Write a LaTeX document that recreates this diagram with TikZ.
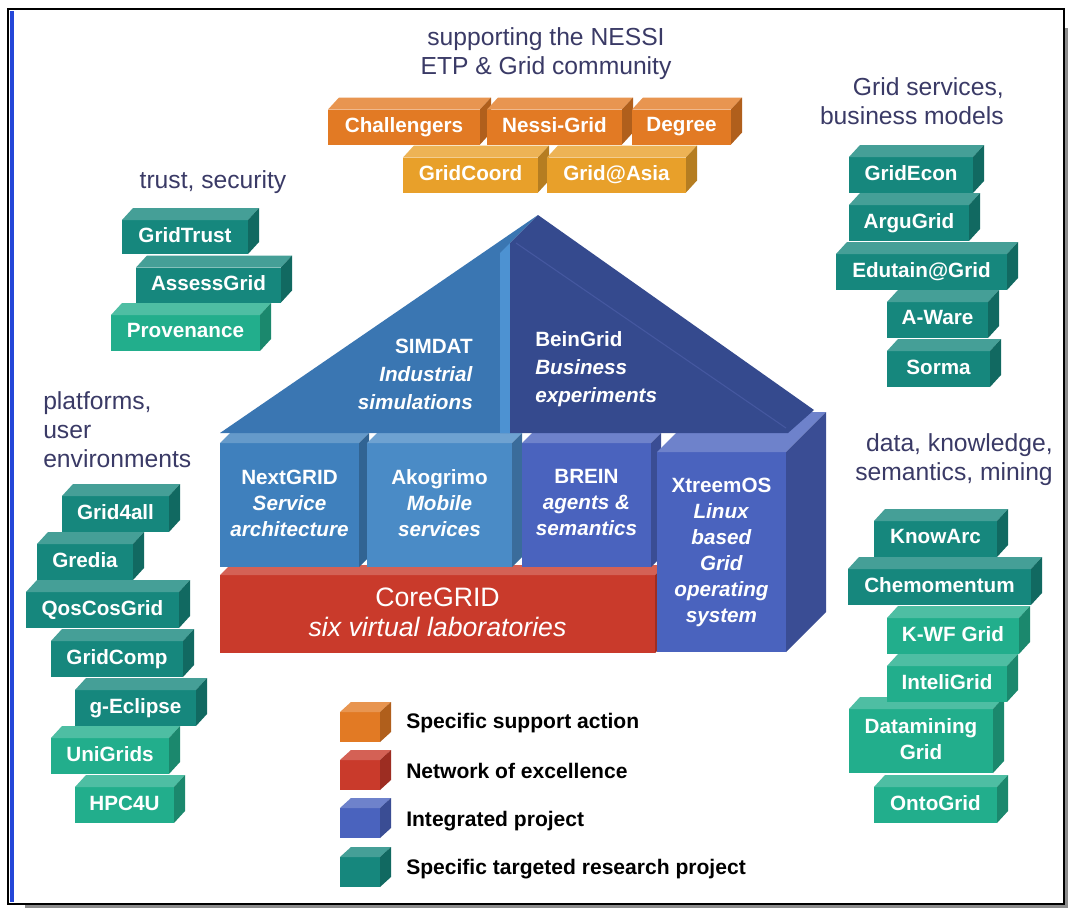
\documentclass[tikz,border=0pt]{standalone}
\usepackage{fontspec}
\setmainfont{Liberation Sans}

\definecolor{ssaorange}{HTML}{E27A24}
\definecolor{ssagold}{HTML}{E8A02A}
\definecolor{corered}{HTML}{C93A2B}
\definecolor{ipblue}{HTML}{4A63BE}
\definecolor{nextblue}{HTML}{3F80BD}
\definecolor{akoblue}{HTML}{4A8BC6}
\definecolor{simdatblue}{HTML}{3A76B2}
\definecolor{simdatlight}{HTML}{4D92D2}
\definecolor{beinnavy}{HTML}{354A8E}
\definecolor{beinedge}{HTML}{4558A0}
\definecolor{strepdark}{HTML}{16877D}
\definecolor{strepgreen}{HTML}{22AE8C}
\definecolor{grouptext}{HTML}{3A3A66}
\definecolor{framegrey}{HTML}{8C8C8C}
\definecolor{frameblue}{HTML}{2446D8}

\newcommand\boxfont{\fontsize{15.5}{19.5}\selectfont\bfseries}
\newcommand\rooffont{\fontsize{15.5}{21}\selectfont\bfseries}
\newcommand\groupfont{\fontsize{18.5}{21.8}\selectfont}
\newcommand\legfont{\fontsize{15.8}{19}\selectfont\bfseries}
\newcommand\corefont{\fontsize{20}{22.5}\selectfont\mdseries}

\begin{document}
\begin{tikzpicture}[x=0.75pt,y=-0.75pt,
  face/.style={inner sep=0pt,outer sep=0pt,text=white,align=center,font=\boxfont},
  rooflbl/.style={inner sep=0pt,text=white,font=\rooffont},
  grouplbl/.style={inner sep=0pt,text=grouptext,font=\groupfont},
  legtext/.style={inner sep=0pt,anchor=west,font=\legfont}]
\def\dx{11}
\def\dy{12}
\def\blk#1#2#3#4#5#6#7{%
  \node[face,fill=#3,minimum width={(#5-#4)*0.75pt},minimum height={#1*0.75pt}] (#2) at ({(#4+#5)/2},#6) {#7\vphantom{Ag}};
  \fill[#3!80!white] (#2.north west) -- ++(\dx,-\dy) -- ([shift={(\dx,-\dy)}]#2.north east) -- (#2.north east) -- cycle;
  \fill[#3!78!black] (#2.north east) -- ++(\dx,-\dy) -- ([shift={(\dx,-\dy)}]#2.south east) -- (#2.south east) -- cycle;}

\useasboundingbox (0,0) rectangle (1068,908);
\fill[framegrey] (25,28) rectangle (1068,908);
\draw[line width=2pt,fill=white] (8,9) rectangle (1064,904);
\draw[line width=3pt,frameblue] (11.5,11) -- (11.5,902);

\node[grouplbl,align=center] (lblnessi) at (546,54) {supporting the NESSI\\ETP \& Grid community};
\node[grouplbl] (lbltrust) at (213,182) {trust, security};
\node[grouplbl,align=left,anchor=west] (lblplat) at (43,430) {platforms,\\user\\environments};
\node[grouplbl,align=right,anchor=east] (lblserv) at (1004,101) {Grid services,\\business models};
\node[grouplbl,align=right,anchor=east] (lbldata) at (1053,460) {data, knowledge,\\semantics, mining};

\blk{35}{gridcoord}{ssagold}{403}{538}{175}{GridCoord}
\blk{35}{gridasia}{ssagold}{547}{686}{175}{Grid@Asia}
\blk{35}{challengers}{ssaorange}{328}{480}{127}{Challengers}
\blk{35}{nessigrid}{ssaorange}{487}{622}{127}{Nessi-Grid}
\blk{35}{degree}{ssaorange}{632}{731}{127}{Degree}

\blk{34}{gridtrust}{strepdark}{122}{248}{237}{GridTrust}
\blk{35}{assessgrid}{strepdark}{136}{281}{285}{AssessGrid}
\blk{36}{provenance}{strepgreen}{111}{260}{333}{Provenance}

\blk{36}{gridfourall}{strepdark}{62}{169}{514}{Grid4all}
\blk{36}{gredia}{strepdark}{37}{133}{562}{Gredia}
\blk{36}{qoscosgrid}{strepdark}{26}{179}{610}{QosCosGrid}
\blk{36}{gridcomp}{strepdark}{51}{183}{659}{GridComp}
\blk{36}{geclipse}{strepdark}{75}{196}{708}{g-Eclipse}
\blk{36}{unigrids}{strepgreen}{51}{169}{756}{UniGrids}
\blk{36}{hpcfouru}{strepgreen}{75}{174}{805}{HPC4U}

\blk{36}{gridecon}{strepdark}{849}{973}{175}{GridEcon}
\blk{36}{argugrid}{strepdark}{849}{969}{223}{ArguGrid}
\blk{36}{edutain}{strepdark}{836}{1007}{272}{Edutain@Grid}
\blk{36}{aware}{strepdark}{887}{988}{320}{A-Ware}
\blk{36}{sorma}{strepdark}{887}{990}{369}{Sorma}

\blk{36}{knowarc}{strepdark}{874}{997}{539}{KnowArc}
\blk{36}{chemomentum}{strepdark}{848}{1031}{587}{Chemomentum}
\blk{36}{kwfgrid}{strepgreen}{887}{1019}{636}{K-WF Grid}
\blk{64}{datamining}{strepgreen}{849}{993}{741}{Datamining\\Grid}
\blk{36}{inteligrid}{strepgreen}{887}{1007}{684}{InteliGrid}
\blk{36}{ontogrid}{strepgreen}{874}{997}{805}{OntoGrid}

\def\dx{10}
\def\dy{10}
\blk{78}{coregrid}{corered}{220}{655}{614}{{\corefont CoreGRID}\\[3pt]{\corefont\itshape six virtual laboratories}}
\blk{124}{nextgrid}{nextblue}{220}{359}{505}{NextGRID\\\textit{Service}\\\textit{architecture}}
\blk{124}{akogrimo}{akoblue}{367}{512}{505}{Akogrimo\\\textit{Mobile}\\\textit{services}}
\blk{124}{brein}{ipblue}{522}{651}{505}{BREIN\\\textit{agents \&}\\\textit{semantics}}
\def\dx{40}
\def\dy{40}
\blk{200}{xtreemos}{ipblue}{657}{786}{552}{XtreemOS\\\textit{Linux}\\\textit{based}\\\textit{Grid}\\\textit{operating}\\\textit{system}}

\fill[simdatblue] (220,433) -- (538,215) -- (510,243) -- (510,433) -- cycle;
\fill[simdatlight] (500,253) -- (510,243) -- (510,433) -- (500,433) -- cycle;
\fill[beinnavy] (538,215) -- (814,410) -- (788,433) -- (510,433) -- (510,243) -- cycle;
\draw[beinedge,line width=.8pt] (516,243) -- (786,428);
\node[rooflbl,align=right,anchor=east] (simdat) at (473,374) {SIMDAT\\\textit{Industrial}\\\textit{simulations}};
\node[rooflbl,align=left,anchor=west] (beingrid) at (535,369) {BeinGrid\\\textit{Business}\\\textit{experiments}};

\def\dx{11}
\def\dy{10}
\blk{30}{legssa}{ssaorange}{340}{380}{727}{}
\blk{30}{legnoe}{corered}{340}{380}{775}{}
\blk{30}{legip}{ipblue}{340}{380}{823}{}
\blk{30}{legstrep}{strepdark}{340}{380}{872}{}
\node[legtext] (txtssa) at (406,723) {Specific support action};
\node[legtext] (txtnoe) at (406,771) {Network of excellence};
\node[legtext] (txtip) at (406,821) {Integrated project};
\node[legtext] (txtstrep) at (406,869) {Specific targeted research project};
\end{tikzpicture}
\end{document}
